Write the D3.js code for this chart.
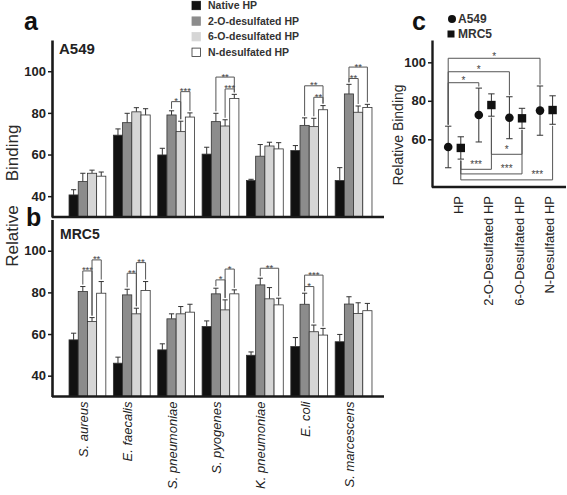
<!DOCTYPE html>
<html><head><meta charset="utf-8">
<script src="https://cdn.jsdelivr.net/npm/d3@7"></script>
<style>
html,body{margin:0;padding:0;background:#fff;}
svg{display:block;font-family:"Liberation Sans",Arial,sans-serif;}
</style></head><body>
<svg id="chart" width="567" height="495"></svg>
<script>
// ---------- DATA ----------
const categories = ["S. aureus","E. faecalis","S. pneumoniae","S. pyogenes","K. pneumoniae","E. coli","S. marcescens"];
const seriesNames = ["Native HP","2-O-desulfated HP","6-O-desulfated HP","N-desulfated HP"];
const seriesColors = ["#111111","#8c8c8c","#d6d6d6","#ffffff"];
const yTicksAB = [40,60,80,100];

// Panel a: A549
const a549Native  = [40.6, 69.3, 59.8, 60.2, 47.5, 61.9, 47.5];
const a549TwoO    = [47.0, 75.3, 79.0, 75.8, 59.2, 74.0, 89.1];
const a549SixO    = [51.0, 80.5, 71.0, 73.7, 64.1, 73.4, 80.3];
const a549N       = [49.6, 79.0, 78.0, 86.9, 62.7, 81.5, 82.6];
const a549NativeErr = [2.5, 3.0, 3.2, 3.3, 0.6, 2.4, 6.2];
const a549TwoOErr   = [4.0, 4.5, 2.0, 4.0, 5.6, 3.6, 4.6];
const a549SixOErr   = [1.5, 2.0, 5.0, 3.0, 1.8, 4.0, 3.0];
const a549NErr      = [2.0, 3.0, 2.0, 2.0, 3.0, 2.0, 1.5];

// Panel b: MRC5
const mrc5Native  = [57.2, 46.0, 52.4, 63.6, 49.8, 54.0, 56.3];
const mrc5TwoO    = [80.4, 78.8, 67.3, 79.3, 83.6, 74.3, 74.4];
const mrc5SixO    = [66.0, 69.7, 69.7, 71.6, 76.9, 61.1, 69.9];
const mrc5N       = [79.6, 80.9, 70.5, 79.3, 74.0, 59.5, 71.2];
const mrc5NativeErr = [3.2, 2.9, 2.9, 2.7, 1.6, 4.3, 3.5];
const mrc5TwoOErr   = [2.4, 2.7, 2.4, 2.7, 3.2, 5.3, 3.5];
const mrc5SixOErr   = [1.9, 2.7, 3.5, 4.8, 5.4, 3.2, 5.1];
const mrc5NErr      = [5.6, 4.3, 3.8, 1.9, 3.2, 3.2, 3.5];

// significance: [category, series from, series to, bracket level (value), label]
const sigA = [
  ["S. pneumoniae",1,2,85.4,"*"],
  ["S. pneumoniae",2,3,90.2,"***"],
  ["S. pyogenes",1,3,97.2,"**"],
  ["S. pyogenes",2,3,91.5,"***"],
  ["E. coli",1,3,93.0,"**"],
  ["E. coli",2,3,87.5,"**"],
  ["S. marcescens",1,3,102.0,"**"],
  ["S. marcescens",1,2,96.5,"**"]
];
const sigB = [
  ["S. aureus",1,2,90.3,"***"],
  ["S. aureus",2,3,95.6,"**"],
  ["E. faecalis",1,2,89.2,"**"],
  ["E. faecalis",2,3,94.3,"**"],
  ["S. pyogenes",1,2,86.0,"*"],
  ["S. pyogenes",2,3,91.2,"*"],
  ["K. pneumoniae",1,3,91.6,"**"],
  ["E. coli",1,2,82.8,"*"],
  ["E. coli",1,3,88.3,"***"]
];

// Panel c
const cLabels = ["HP","2-O-Desulfated HP","6-O-Desulfated HP","N-Desulfated HP"];
const cA549    = [56.0, 72.6, 71.2, 74.9];
const cA549Err = [10.8, 14.0, 10.9, 12.8];
const cMRC5    = [55.5, 77.8, 70.9, 75.2];
const cMRC5Err = [5.8, 5.8, 5.2, 7.4];
const yTicksC = [60,80,100];
// [from, to, level, label, label between from, label between to]
const sigCTop = [[0,1,89.4,"*",0,1],[0,2,95.1,"*",0,2],[0,3,102.1,"*",0,3]];
const sigCBottom = [[0,1,44.4,"***",0,1],[1,2,52.2,"*",1,2],[0,2,42.0,"***",1,2],[0,3,38.9,"***",2,3]];

// ---------- DRAW ----------
const svg = d3.select("#chart");
const ink = "#1a1a1a";
const starSize = 9.5;

const x = d3.scaleBand().domain(categories).range([65.25, 375.75]).paddingInner(0.17).paddingOuter(0.085);
const xs = d3.scaleBand().domain(d3.range(4)).range([0, x.bandwidth()]);
const ya = d3.scaleLinear().domain([30,115]).range([217,40]);
const yb = d3.scaleLinear().domain([30,115]).range([396.5,219.5]);

function barPanel(y, vals, errs, sig, showLabels){
  const g = svg.append("g");
  vals.forEach((arr, si) => {
    const cx = (d,i)=> x(categories[i]) + xs(si) + xs.bandwidth()/2;
    g.selectAll(null).data(arr).enter().append("path")
      .attr("d",(d,i)=>{const top=y(d+errs[si][i]); const c=cx(d,i);
        return `M${c},${y(d)}V${top}M${c-2.6},${top}H${c+2.6}`;})
      .attr("stroke","#333").attr("stroke-width",1).attr("fill","none");
    g.selectAll(null).data(arr).enter().append("rect")
      .attr("x",(d,i)=>x(categories[i])+xs(si))
      .attr("y",d=>y(d)).attr("width",xs.bandwidth()).attr("height",d=>y(30)-y(d))
      .attr("fill",seriesColors[si]).attr("stroke","#333").attr("stroke-width",0.8);
  });
  sig.forEach(([cat,s1,s2,level,label])=>{
    const ci = categories.indexOf(cat);
    const x1 = x(cat)+xs(s1)+xs.bandwidth()/2, x2 = x(cat)+xs(s2)+xs.bandwidth()/2;
    const yl = y(level);
    const b1 = y(vals[s1][ci]+errs[s1][ci])-2, b2 = y(vals[s2][ci]+errs[s2][ci])-2;
    g.append("path").attr("d",`M${x1},${b1}V${yl}H${x2}V${b2}`)
      .attr("fill","none").attr("stroke","#555").attr("stroke-width",1);
    g.append("text").attr("x",(x1+x2)/2).attr("y",yl+2.5).attr("text-anchor","middle")
      .attr("font-size",starSize).attr("fill","#444").text(label);
  });
  const ax = g.append("g").attr("transform","translate(52,0)")
    .call(d3.axisLeft(y).tickValues(yTicksAB).tickSize(4).tickSizeOuter(0).tickPadding(2));
  ax.select(".domain").attr("stroke",ink).attr("stroke-width",2.6);
  ax.selectAll(".tick line").attr("stroke",ink).attr("stroke-width",1.5);
  ax.selectAll(".tick text").attr("font-size",13).attr("font-weight","bold").attr("fill","#222")
    .attr("font-family","Liberation Sans, Arial, sans-serif");
  g.append("line").attr("x1",52).attr("x2",384).attr("y1",y(30)).attr("y2",y(30))
    .attr("stroke",ink).attr("stroke-width",2.4);
  if(showLabels){
    const xa = g.append("g").attr("transform",`translate(0,${y(30)})`)
      .call(d3.axisBottom(x).tickSize(0));
    xa.select(".domain").remove();
    xa.selectAll(".tick text").attr("transform","rotate(-90)").attr("text-anchor","end")
      .attr("x",-5).attr("y",-4).attr("dy","0.35em")
      .attr("font-size",13).attr("font-style","italic").attr("fill","#222")
      .attr("font-family","Liberation Sans, Arial, sans-serif");
  }
  return g;
}

barPanel(ya,[a549Native,a549TwoO,a549SixO,a549N],[a549NativeErr,a549TwoOErr,a549SixOErr,a549NErr],sigA,false);
barPanel(yb,[mrc5Native,mrc5TwoO,mrc5SixO,mrc5N],[mrc5NativeErr,mrc5TwoOErr,mrc5SixOErr,mrc5NErr],sigB,true);

// panel titles
svg.append("text").attr("x",24).attr("y",30).attr("font-size",25).attr("font-weight","bold").attr("fill","#111").text("a");
svg.append("text").attr("x",26).attr("y",226).attr("font-size",25).attr("font-weight","bold").attr("fill","#111").text("b");
svg.append("text").attr("x",412).attr("y",30).attr("font-size",25).attr("font-weight","bold").attr("fill","#111").text("c");
svg.append("text").attr("x",59).attr("y",54).attr("font-size",15).attr("font-weight","bold").attr("fill","#222").text("A549");
svg.append("text").attr("x",60).attr("y",239).attr("font-size",14).attr("font-weight","bold").attr("fill","#222").text("MRC5");

// big y label
svg.append("text").attr("transform","translate(12,153) rotate(-90)").attr("text-anchor","middle").attr("dy","0.35em")
  .attr("font-size",17).attr("fill","#2a2a2a").text("Binding");
svg.append("text").attr("transform","translate(12,236) rotate(-90)").attr("text-anchor","middle").attr("dy","0.35em")
  .attr("font-size",17).attr("fill","#2a2a2a").text("Relative");

// legend
const leg = svg.append("g");
seriesNames.forEach((n,i)=>{
  const yy = 5.5 + i*15.6;
  leg.append("rect").attr("x",192).attr("y",yy-4.2).attr("width",8.4).attr("height",8.4)
    .attr("fill",seriesColors[i]).attr("stroke", i===3 ? "#333" : seriesColors[i]).attr("stroke-width",0.8);
  leg.append("text").attr("x",208).attr("y",yy).attr("dy","0.35em").attr("font-size",10.5)
    .attr("font-weight","bold").attr("fill","#333").text(n);
});

// ---------- Panel c ----------
const xc = d3.scalePoint().domain(cLabels).range([454.5, 546.3]);
const yc = d3.scaleLinear().domain([35.2, 111.6]).range([187, 40]);
const off = 6.3;
const gc = svg.append("g");

function errV(arr, errArr, dx){
  gc.selectAll(null).data(arr).enter().append("path")
    .attr("d",(d,i)=>{const c=xc(cLabels[i])+dx; const t=yc(d+errArr[i]), b=yc(d-errArr[i]);
      return `M${c},${t}V${b}M${c-3.2},${t}H${c+3.2}M${c-3.2},${b}H${c+3.2}`;})
    .attr("stroke","#333").attr("stroke-width",1).attr("fill","none");
}
errV(cA549,cA549Err,-off);
errV(cMRC5,cMRC5Err,off);
gc.selectAll(null).data(cA549).enter().append("circle")
  .attr("cx",(d,i)=>xc(cLabels[i])-off).attr("cy",d=>yc(d)).attr("r",4.3).attr("fill","#111");
gc.selectAll(null).data(cMRC5).enter().append("rect")
  .attr("x",(d,i)=>xc(cLabels[i])+off-4.2).attr("y",d=>yc(d)-4.2).attr("width",8.4).attr("height",8.4).attr("fill","#111");

sigCTop.forEach(([f,t,level,label,lf,lt])=>{
  const x1=xc(cLabels[f])-off, x2=xc(cLabels[t])-off, yl=yc(level);
  const b1=yc(cA549[f]+cA549Err[f])-1.5, b2=yc(cA549[t]+cA549Err[t])-1.5;
  gc.append("path").attr("d",`M${x1},${b1}V${yl}H${x2}V${b2}`).attr("fill","none").attr("stroke","#555");
  const lx=(xc(cLabels[lf])+xc(cLabels[lt]))/2-off;
  gc.append("text").attr("x",lx).attr("y",yl+1.5).attr("text-anchor","middle").attr("font-size",10).attr("fill","#444").text(label);
});
sigCBottom.forEach(([f,t,level,label,lf,lt])=>{
  const x1=xc(cLabels[f])+off, x2=xc(cLabels[t])+off, yl=yc(level);
  const b1=yc(cMRC5[f]-cMRC5Err[f])+1.5, b2=yc(cMRC5[t]-cMRC5Err[t])+1.5;
  gc.append("path").attr("d",`M${x1},${b1}V${yl}H${x2}V${b2}`).attr("fill","none").attr("stroke","#555");
  const lx=(xc(cLabels[lf])+xc(cLabels[lt]))/2+off;
  gc.append("text").attr("x",lx).attr("y",yl-1.5).attr("text-anchor","middle").attr("font-size",10).attr("fill","#444").text(label);
});

const axc = gc.append("g").attr("transform","translate(432,0)")
  .call(d3.axisLeft(yc).tickValues(yTicksC).tickSize(4).tickSizeOuter(0).tickPadding(2));
axc.select(".domain").attr("stroke",ink).attr("stroke-width",2.4);
axc.selectAll(".tick line").attr("stroke",ink).attr("stroke-width",1.5);
axc.selectAll(".tick text").attr("font-size",13).attr("font-weight","bold").attr("fill","#222")
  .attr("font-family","Liberation Sans, Arial, sans-serif");
gc.append("line").attr("x1",432).attr("x2",566).attr("y1",187).attr("y2",187).attr("stroke",ink).attr("stroke-width",2.4);
const xac = gc.append("g").attr("transform","translate(0,187)").call(d3.axisBottom(xc).tickSize(0));
xac.select(".domain").remove();
xac.selectAll(".tick text").attr("transform","rotate(-90)").attr("text-anchor","end")
  .attr("x",-9).attr("y",3).attr("dy","0.35em").attr("font-size",13).attr("fill","#222")
  .attr("font-family","Liberation Sans, Arial, sans-serif");

svg.append("text").attr("transform","translate(398,135) rotate(-90)").attr("text-anchor","middle").attr("dy","0.35em")
  .attr("font-size",14).attr("fill","#2a2a2a").text("Relative Binding");

// c legend
svg.append("circle").attr("cx",452).attr("cy",19).attr("r",4).attr("fill","#111");
svg.append("text").attr("x",458).attr("y",19).attr("dy","0.35em").attr("font-size",12).attr("font-weight","bold").attr("fill","#333").text("A549");
svg.append("rect").attr("x",447.5).attr("y",30.5).attr("width",7).attr("height",7).attr("fill","#111");
svg.append("text").attr("x",458).attr("y",34).attr("dy","0.35em").attr("font-size",12).attr("font-weight","bold").attr("fill","#333").text("MRC5");
</script>
</body></html>
